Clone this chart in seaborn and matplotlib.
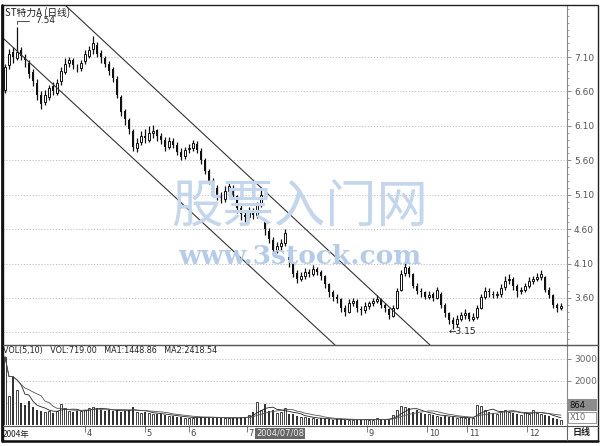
import numpy as np
import pandas as pd
import matplotlib
matplotlib.use("Agg")
import matplotlib.pyplot as plt
from matplotlib.ticker import MultipleLocator
from matplotlib.lines import Line2D
from matplotlib.patches import Rectangle
import seaborn as sns

sns.set_theme(style="white")
plt.rcParams['font.family'] = ['Noto Sans CJK SC', 'DejaVu Sans']

# ---------------- data ----------------
opens = [6.62, 6.98, 7.18, 7.08, 7.20, 7.10, 7.02, 6.88, 6.72, 6.55,
         6.45, 6.52, 6.68, 6.58, 6.75, 6.88, 7.02, 7.06, 6.96, 6.94,
         7.04, 7.12, 7.22, 7.28, 7.16, 7.08, 7.00, 6.92, 6.78, 6.52,
         6.32, 6.18, 6.02, 5.78, 5.86, 5.96, 5.90, 6.00, 6.04, 5.96,
         5.90, 5.80, 5.88, 5.82, 5.72, 5.66, 5.76, 5.78, 5.84, 5.74,
         5.60, 5.44, 5.30, 5.20, 5.08, 5.04, 5.16, 5.20, 5.08, 4.90,
         4.80, 4.78, 4.86, 4.80, 4.96, 4.70, 4.58, 4.44, 4.30, 4.36,
         4.40, 4.20, 4.10, 3.96, 3.88, 3.92, 3.98, 3.95, 4.02, 3.98,
         3.92, 3.80, 3.68, 3.62, 3.58, 3.46, 3.40, 3.52, 3.56, 3.44,
         3.42, 3.48, 3.52, 3.56, 3.58, 3.50, 3.44, 3.34, 3.46, 3.72,
         3.96, 4.04, 3.95, 3.78, 3.70, 3.68, 3.62, 3.66, 3.60, 3.66,
         3.50, 3.38, 3.28, 3.22, 3.30, 3.35, 3.38, 3.30, 3.32, 3.46,
         3.62, 3.70, 3.66, 3.64, 3.66, 3.76, 3.86, 3.88, 3.78, 3.70,
         3.72, 3.78, 3.84, 3.88, 3.90, 3.90, 3.72, 3.64, 3.50, 3.45]
closes = [6.95, 7.15, 7.10, 7.18, 7.12, 7.05, 6.85, 6.75, 6.55, 6.42,
          6.55, 6.65, 6.60, 6.72, 6.90, 7.00, 7.05, 6.98, 6.95, 7.02,
          7.15, 7.20, 7.30, 7.15, 7.10, 7.00, 6.90, 6.80, 6.55, 6.30,
          6.20, 6.05, 5.80, 5.85, 5.95, 5.92, 6.00, 6.02, 5.95, 5.90,
          5.80, 5.88, 5.82, 5.72, 5.65, 5.75, 5.78, 5.85, 5.75, 5.60,
          5.45, 5.30, 5.20, 5.10, 5.05, 5.15, 5.22, 5.10, 4.90, 4.82,
          4.78, 4.85, 4.80, 4.95, 5.10, 4.60, 4.45, 4.30, 4.35, 4.40,
          4.55, 4.15, 3.95, 3.88, 3.92, 3.98, 3.95, 4.02, 3.98, 3.92,
          3.80, 3.68, 3.62, 3.58, 3.45, 3.40, 3.52, 3.55, 3.45, 3.42,
          3.48, 3.52, 3.55, 3.58, 3.50, 3.45, 3.35, 3.45, 3.70, 3.95,
          4.05, 3.95, 3.78, 3.70, 3.68, 3.62, 3.65, 3.60, 3.72, 3.50,
          3.38, 3.28, 3.22, 3.30, 3.35, 3.38, 3.30, 3.32, 3.45, 3.62,
          3.70, 3.68, 3.65, 3.66, 3.75, 3.85, 3.88, 3.78, 3.70, 3.72,
          3.78, 3.85, 3.88, 3.90, 3.95, 3.72, 3.65, 3.50, 3.45, 3.48]
highs = [7.00, 7.22, 7.25, 7.54, 7.25, 7.15, 7.05, 6.92, 6.78, 6.60,
         6.62, 6.70, 6.74, 6.78, 6.96, 7.08, 7.10, 7.08, 7.00, 7.06,
         7.20, 7.26, 7.40, 7.32, 7.20, 7.12, 7.04, 6.95, 6.82, 6.55,
         6.35, 6.22, 6.05, 5.92, 6.02, 6.05, 6.10, 6.12, 6.06, 6.00,
         5.94, 5.94, 5.92, 5.86, 5.78, 5.80, 5.84, 5.90, 5.88, 5.78,
         5.64, 5.48, 5.34, 5.24, 5.14, 5.22, 5.30, 5.24, 5.10, 4.95,
         4.88, 4.92, 4.90, 5.00, 5.18, 4.75, 4.62, 4.48, 4.42, 4.46,
         4.60, 4.28, 4.12, 4.00, 3.98, 4.04, 4.02, 4.08, 4.05, 4.00,
         3.94, 3.82, 3.72, 3.66, 3.60, 3.50, 3.58, 3.60, 3.58, 3.48,
         3.54, 3.56, 3.60, 3.64, 3.60, 3.52, 3.46, 3.50, 3.74, 4.00,
         4.13, 4.06, 3.96, 3.82, 3.74, 3.70, 3.70, 3.68, 3.76, 3.68,
         3.52, 3.40, 3.32, 3.36, 3.40, 3.44, 3.40, 3.38, 3.50, 3.66,
         3.76, 3.74, 3.70, 3.70, 3.80, 3.92, 3.95, 3.90, 3.80, 3.76,
         3.82, 3.90, 3.92, 3.96, 4.00, 3.92, 3.76, 3.66, 3.52, 3.52]
lows = [6.58, 6.92, 7.02, 7.05, 7.05, 6.95, 6.80, 6.68, 6.48, 6.35,
        6.40, 6.48, 6.55, 6.55, 6.70, 6.85, 6.95, 6.92, 6.88, 6.90,
        7.00, 7.08, 7.15, 7.10, 7.02, 6.95, 6.84, 6.74, 6.50, 6.25,
        6.12, 5.98, 5.74, 5.72, 5.82, 5.85, 5.86, 5.92, 5.88, 5.84,
        5.74, 5.76, 5.78, 5.68, 5.60, 5.62, 5.70, 5.74, 5.70, 5.55,
        5.40, 5.25, 5.14, 5.02, 4.98, 5.00, 5.10, 5.04, 4.84, 4.74,
        4.70, 4.74, 4.75, 4.76, 4.92, 4.52, 4.40, 4.22, 4.25, 4.30,
        4.36, 4.05, 3.90, 3.82, 3.85, 3.88, 3.90, 3.92, 3.94, 3.86,
        3.75, 3.62, 3.56, 3.52, 3.40, 3.34, 3.38, 3.48, 3.40, 3.36,
        3.38, 3.44, 3.48, 3.52, 3.46, 3.40, 3.30, 3.32, 3.44, 3.70,
        3.92, 3.90, 3.74, 3.66, 3.62, 3.58, 3.58, 3.55, 3.58, 3.45,
        3.32, 3.22, 3.15, 3.18, 3.26, 3.30, 3.26, 3.27, 3.30, 3.44,
        3.58, 3.62, 3.60, 3.60, 3.62, 3.72, 3.80, 3.72, 3.62, 3.66,
        3.68, 3.74, 3.80, 3.84, 3.86, 3.68, 3.60, 3.46, 3.40, 3.42]
volumes = [3100, 1300, 2200, 1600, 1000, 900, 1100, 800, 700, 650,
           600, 650, 550, 650, 950, 750, 650, 600, 620, 640,
           700, 780, 820, 760, 700, 650, 700, 620, 680, 600,
           650, 700, 820, 600, 560, 580, 540, 520, 500, 480,
           450, 420, 400, 380, 360, 340, 330, 320, 340, 360,
           380, 350, 330, 320, 340, 300, 320, 310, 330, 350,
           380, 450, 600, 1050, 700, 950, 650, 700, 550, 600,
           750, 500, 480, 420, 380, 350, 320, 300, 280, 300,
           280, 260, 240, 250, 270, 240, 230, 220, 240, 260,
           250, 230, 240, 300, 260, 240, 280, 450, 700, 850,
           800, 750, 600, 700, 550, 480, 500, 450, 420, 380,
           420, 350, 380, 300, 350, 320, 300, 340, 900, 850,
           700, 600, 550, 500, 650, 700, 600, 550, 500, 450,
           600, 500, 700, 550, 500, 450, 400, 300, 260, 230]

price_ticks = [7.10, 6.60, 6.10, 5.60, 5.10, 4.60, 4.10, 3.60]
price_grid = [7.10, 6.60, 6.10, 5.60, 5.10, 4.60, 4.10, 3.60, 3.10]
vol_ticks = [3000, 2000]
vol_grid = [3000, 2000, 1000]
month_labels = ["4", "5", "6", "7", "9", "10", "11", "12"]
month_pos = [20, 35, 46, 60.5, 90.5, 105.5, 115.5, 130.5]
upper_channel = ([15, 106.25], [7.856, 2.917])
lower_channel = ([-0.5, 82.5], [7.376, 2.917])
high_idx, high_val = 3, 7.54
low_idx, low_val = 112, 3.15

# ---------------- figure ----------------
W, H = 600, 446
fig = plt.figure(figsize=(6, 4.46), dpi=100)
fig.patch.set_facecolor("white")

def fx(px):
    return px / W

def fy(py):
    return 1 - py / H

# watermark (drawn first, behind the chart marks)
fig.text(0.5, fy(208), "股票入门网", fontsize=37, color="#c4d6ec",
         ha="center", va="center", style="italic", zorder=0)
fig.text(0.5, fy(257), "www.3stock.com", fontsize=19, color="#b5cce8",
         ha="center", va="center", fontweight="bold", family="DejaVu Serif", zorder=0)

ax = fig.add_axes([fx(3), fy(345), fx(567) - fx(3), fy(5) - fy(345)])
axv = fig.add_axes([fx(3), fy(425), fx(567) - fx(3), fy(345) - fy(425)])
axd = fig.add_axes([fx(3), fy(440), fx(567) - fx(3), fy(425) - fy(440)])
for a in (ax, axv, axd):
    a.patch.set_alpha(0)

n = len(closes)
idx = np.arange(n)
o = np.array(opens)
c = np.array(closes)
hi = np.array(highs)
lo = np.array(lows)
up = c >= o

# candles
ax.vlines(idx, lo, hi, color="#111111", lw=0.9, zorder=2)
body_up = np.maximum(c - o, 0.012)
body_dn = np.maximum(o - c, 0.012)
ax.bar(idx[up], body_up[up], bottom=o[up], width=0.7, facecolor="white",
       edgecolor="#111111", linewidth=0.7, zorder=3)
ax.bar(idx[~up], body_dn[~up], bottom=c[~up], width=0.7, color="#111111",
       linewidth=0, zorder=3)

ax.set_xlim(-0.5, n + 0.5)
ax.set_ylim(2.917, 7.856)
for g in price_grid:
    ax.axhline(g, color="#b8b8b8", lw=0.6, ls=(0, (1.5, 2)), zorder=1)

# channel lines
ax.plot(upper_channel[0], upper_channel[1], color="#333333", lw=0.8, zorder=4)
ax.plot(lower_channel[0], lower_channel[1], color="#333333", lw=0.8, zorder=4)

# right axis
ax.yaxis.tick_right()
ax.set_yticks(price_ticks)
ax.set_yticklabels([f"{t:.2f}" for t in price_ticks], color="#555555", fontsize=6.5,
                   family="DejaVu Sans")
ax.yaxis.set_minor_locator(MultipleLocator(0.1))
ax.tick_params(axis="y", which="major", length=3, width=0.6, color="#777777", pad=2, right=True)
ax.tick_params(axis="y", which="minor", length=1.5, width=0.5, color="#777777", right=True)
ax.set_xticks([])
for s in ["left", "top", "bottom"]:
    ax.spines[s].set_visible(False)
ax.spines["right"].set_color("#888888")
ax.spines["right"].set_linewidth(0.8)

# annotations
ax.text(0.004, 0.979, "ST特力A (日线)", transform=ax.transAxes, fontsize=7,
        ha="left", va="center", color="#222222")
ax.annotate("7.54", xy=(high_idx, high_val), xytext=(7.5, 7.63), fontsize=6.5,
            family="DejaVu Sans", color="#222222", va="center",
            arrowprops=dict(arrowstyle="-", color="#333333", lw=0.6,
                            connectionstyle="angle,angleA=180,angleB=90,rad=0"))
ax.text(low_idx - 1.2, low_val - 0.03, "←3.15", fontsize=6.5, family="DejaVu Sans",
        color="#222222", va="center", ha="left")

# ---------------- volume ----------------
v = np.array(volumes, dtype=float)
axv.bar(idx[up], v[up], width=0.7, facecolor="white", edgecolor="#222222", linewidth=0.6)
axv.bar(idx[~up], v[~up], width=0.7, color="#333333", linewidth=0)
vs = pd.Series(v)
ma5 = vs.rolling(5, min_periods=1).mean()
ma10 = vs.rolling(10, min_periods=1).mean()
sns.lineplot(x=idx, y=ma5.values, ax=axv, color="#222222", lw=0.6)
sns.lineplot(x=idx, y=ma10.values, ax=axv, color="#555555", lw=0.6)
axv.set_xlim(-0.5, n + 0.5)
axv.set_ylim(0, 3636)
for g in vol_grid:
    axv.axhline(g, color="#bbbbbb", lw=0.6, ls=(0, (1.5, 2)), zorder=0)
axv.yaxis.tick_right()
axv.set_yticks(vol_ticks)
axv.set_yticklabels([str(t) for t in vol_ticks], color="#666666", fontsize=6.5,
                    family="DejaVu Sans")
axv.tick_params(axis="y", length=3, width=0.6, color="#777777", pad=2)
axv.set_xticks([])
axv.set_ylabel("")
for s in ["left", "top", "bottom"]:
    axv.spines[s].set_visible(False)
axv.spines["right"].set_color("#888888")
axv.spines["right"].set_linewidth(0.8)
axv.text(0.0, 0.93, "VOL(5,10)   VOL:719.00   MA1:1448.86   MA2:2418.54",
         transform=axv.transAxes, fontsize=5.8, family="DejaVu Sans",
         ha="left", va="center", color="#222222")

# ---------------- date strip ----------------
axd.set_xlim(-0.5, n + 0.5)
axd.set_ylim(0, 1)
axd.set_xticks([])
axd.set_yticks([])
for s in axd.spines.values():
    s.set_visible(False)
axd.vlines(month_pos, 0.55, 1.0, color="#666666", lw=0.6)
for p, lab in zip(month_pos, month_labels):
    axd.text(p + 0.4, 0.4, lab, fontsize=6, family="DejaVu Sans", color="#444444",
             ha="left", va="center")
axd.text(0.0, 0.4, "2004年", fontsize=6, color="#222222", ha="left", va="center",
         transform=axd.get_yaxis_transform())
axd.text(62.8, 0.45, "2004/07/08", fontsize=6, family="DejaVu Sans", color="#eeeeee",
         ha="left", va="center",
         bbox=dict(boxstyle="square,pad=0.15", facecolor="#666666", edgecolor="none"))

# right side boxes
fig.patches.append(Rectangle((fx(567), fy(411)), fx(597) - fx(567), fy(399) - fy(411),
                             transform=fig.transFigure, facecolor="#8c8c8c",
                             edgecolor="none", zorder=5))
fig.text(fx(569), fy(405), "864", fontsize=6, family="DejaVu Sans", color="#111111",
         ha="left", va="center", zorder=6)
fig.patches.append(Rectangle((fx(568), fy(423)), fx(596) - fx(568), fy(412) - fy(423),
                             transform=fig.transFigure, facecolor="white",
                             edgecolor="#888888", lw=0.6, zorder=5))
fig.text(fx(570), fy(417.5), "X10", fontsize=6, family="DejaVu Sans", color="#666666",
         ha="left", va="center", zorder=6)
fig.text(fx(582), fy(433), "日线", fontsize=6.5, color="#222222", ha="center",
         va="center", zorder=6, fontweight="bold")

# frame and separators
fig.add_artist(Rectangle((fx(3), fy(441)), fx(598) - fx(3), fy(5) - fy(441),
                         transform=fig.transFigure, facecolor="none",
                         edgecolor="#222222", lw=1.0, zorder=7))
fig.add_artist(Line2D([fx(2), fx(2)], [fy(441), fy(5)], transform=fig.transFigure,
                      color="#111111", lw=2.0, zorder=7))
fig.add_artist(Line2D([fx(3), fx(598)], [fy(345), fy(345)], transform=fig.transFigure,
                      color="#555555", lw=1.0, zorder=7))
fig.add_artist(Line2D([fx(3), fx(598)], [fy(425.5), fy(425.5)], transform=fig.transFigure,
                      color="#555555", lw=0.8, zorder=7))
fig.add_artist(Line2D([fx(3), fx(598)], [fy(440.5), fy(440.5)], transform=fig.transFigure,
                      color="#111111", lw=1.8, zorder=7))
fig.add_artist(Line2D([fx(567), fx(567)], [fy(440), fy(425)], transform=fig.transFigure,
                      color="#666666", lw=0.8, zorder=7))

fig.savefig("out.png", dpi=100, facecolor="white")
